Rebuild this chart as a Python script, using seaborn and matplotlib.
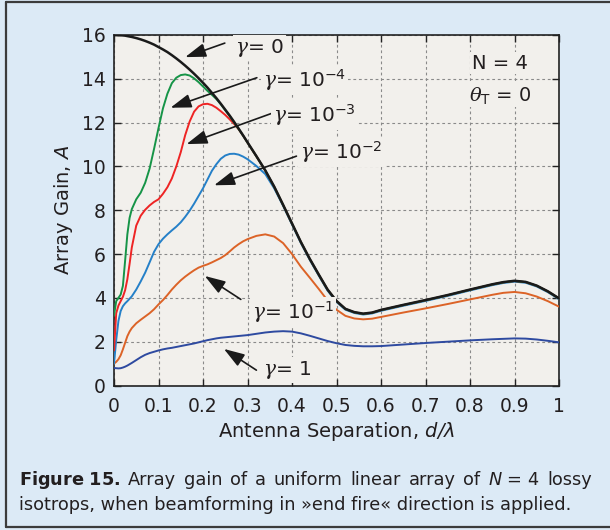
import numpy as np
import pandas as pd
import matplotlib
matplotlib.use("Agg")
import matplotlib.pyplot as plt
import seaborn as sns
from matplotlib.lines import Line2D

# ---------------- data ----------------
d_lambda = [0, 0.005, 0.01, 0.015, 0.02, 0.025, 0.03, 0.035, 0.04, 0.05,
            0.06, 0.07, 0.08, 0.09, 0.1, 0.11, 0.12, 0.13, 0.14, 0.15,
            0.16, 0.17, 0.18, 0.19, 0.2, 0.21, 0.22, 0.23, 0.24, 0.25,
            0.26, 0.27, 0.28, 0.29, 0.3, 0.32, 0.34, 0.36, 0.38, 0.4,
            0.42, 0.44, 0.46, 0.48, 0.5, 0.52, 0.54, 0.56, 0.58, 0.6,
            0.65, 0.7, 0.75, 0.8, 0.85, 0.875, 0.9, 0.925, 0.95, 0.975, 1.0]

gain_g0 = [16.0, 16.0, 15.99, 15.99, 15.98, 15.97, 15.95, 15.93, 15.91, 15.86,
           15.8, 15.73, 15.65, 15.56, 15.45, 15.34, 15.22, 15.08, 14.93, 14.77,
           14.6, 14.42, 14.23, 14.03, 13.82, 13.6, 13.36, 13.12, 12.86, 12.59,
           12.32, 12.03, 11.73, 11.42, 11.1, 10.47, 9.82, 9.08, 8.25, 7.4,
           6.55, 5.78, 5.07, 4.38, 3.86, 3.5, 3.35, 3.28, 3.33, 3.45,
           3.68, 3.9, 4.13, 4.38, 4.62, 4.72, 4.78, 4.73, 4.56, 4.3, 3.98]

gain_g1e4 = [3.2, 3.85, 4.0, 4.15, 4.55, 5.7, 6.9, 7.65, 8.05, 8.5,
             8.8, 9.25, 9.9, 10.8, 11.75, 12.65, 13.32, 13.8, 14.05, 14.17,
             14.2, 14.15, 14.02, 13.85, 13.65, 13.45, 13.27, 13.08, 12.84, 12.57,
             12.3, 12.01, 11.71, 11.41, 11.09, 10.46, 9.81, 9.07, 8.24, 7.39,
             6.54, 5.77, 5.06, 4.37, 3.85, 3.49, 3.34, 3.27, 3.32, 3.44,
             3.67, 3.89, 4.12, 4.37, 4.61, 4.71, 4.77, 4.72, 4.55, 4.29, 3.97]

gain_g1e3 = [1.6, 3.3, 3.65, 3.85, 4.05, 4.35, 4.85, 5.55, 6.3, 7.3,
             7.75, 8.02, 8.22, 8.38, 8.5, 8.75, 9.05, 9.45, 10.0, 10.65,
             11.43, 12.05, 12.5, 12.74, 12.84, 12.86, 12.8, 12.68, 12.52, 12.35,
             12.15, 11.94, 11.7, 11.41, 11.09, 10.46, 9.81, 9.07, 8.24, 7.39,
             6.54, 5.77, 5.06, 4.37, 3.85, 3.49, 3.34, 3.27, 3.32, 3.44,
             3.67, 3.89, 4.12, 4.37, 4.61, 4.71, 4.77, 4.72, 4.55, 4.29, 3.97]

gain_g1e2 = [1.0, 2.08, 2.95, 3.4, 3.62, 3.75, 3.85, 3.96, 4.07, 4.38,
             4.75, 5.15, 5.62, 6.1, 6.45, 6.7, 6.9, 7.08, 7.25, 7.45,
             7.7, 7.98, 8.3, 8.65, 9.0, 9.4, 9.8, 10.1, 10.35, 10.5,
             10.57, 10.58, 10.54, 10.45, 10.33, 10.02, 9.65, 9.0, 8.2, 7.35,
             6.5, 5.73, 5.02, 4.33, 3.81, 3.46, 3.31, 3.24, 3.29, 3.41,
             3.64, 3.86, 4.09, 4.34, 4.58, 4.68, 4.74, 4.69, 4.52, 4.26, 3.94]

gain_g1e1 = [1.0, 1.08, 1.2, 1.38, 1.65, 1.95, 2.25, 2.46, 2.62, 2.84,
             3.0, 3.15, 3.3, 3.48, 3.7, 3.9, 4.13, 4.38, 4.6, 4.8,
             4.97, 5.12, 5.26, 5.38, 5.46, 5.53, 5.62, 5.72, 5.82, 5.95,
             6.12, 6.3, 6.45, 6.58, 6.68, 6.83, 6.9, 6.8, 6.5, 6.0,
             5.42, 4.92, 4.41, 3.88, 3.46, 3.18, 3.06, 3.02, 3.05, 3.13,
             3.33, 3.52, 3.72, 3.93, 4.14, 4.23, 4.27, 4.21, 4.06, 3.85, 3.6]

gain_g1 = [0.8, 0.79, 0.78, 0.79, 0.82, 0.86, 0.91, 0.97, 1.03, 1.16,
           1.29, 1.4, 1.48, 1.54, 1.6, 1.65, 1.69, 1.72, 1.76, 1.8,
           1.84, 1.88, 1.92, 1.97, 2.02, 2.07, 2.11, 2.15, 2.18, 2.2,
           2.22, 2.24, 2.26, 2.28, 2.3, 2.36, 2.42, 2.46, 2.48, 2.46,
           2.38, 2.27, 2.15, 2.03, 1.93, 1.85, 1.81, 1.79, 1.79, 1.8,
           1.87, 1.94, 2.0, 2.06, 2.11, 2.13, 2.15, 2.14, 2.1, 2.04, 1.97]

x_ticks = [0, 0.1, 0.2, 0.3, 0.4, 0.5, 0.6, 0.7, 0.8, 0.9, 1]
x_tick_labels = ["0", "0.1", "0.2", "0.3", "0.4", "0.5", "0.6", "0.7", "0.8", "0.9", "1"]
y_ticks = [0, 2, 4, 6, 8, 10, 12, 14, 16]

# ---------------- style ----------------
sns.set_style("ticks")
plt.rcParams["font.family"] = ["DejaVu Sans"]
plt.rcParams["mathtext.fontset"] = "custom"
plt.rcParams["mathtext.rm"] = "DejaVu Sans"
plt.rcParams["mathtext.it"] = "DejaVu Serif:italic"
plt.rcParams["mathtext.sf"] = "DejaVu Sans:italic"
plt.rcParams["mathtext.bf"] = "DejaVu Sans:bold"

TXT = "#231f20"
FIG_BG = "#dceaf6"
AX_BG = "#f2f0ec"

fig = plt.figure(figsize=(6.1, 5.3), dpi=100, facecolor=FIG_BG)
ax = fig.add_axes([114 / 610, 1 - 385.5 / 530, 445 / 610, 350.5 / 530])
ax.set_facecolor(AX_BG)

df = pd.DataFrame({"d": d_lambda, "g1": gain_g1, "g1e1": gain_g1e1,
                   "g1e2": gain_g1e2, "g1e3": gain_g1e3, "g1e4": gain_g1e4,
                   "g0": gain_g0})

series = [("g1", "#2e4aa0", 1.4), ("g1e1", "#dc6327", 1.4),
          ("g1e2", "#2580c8", 1.4), ("g1e3", "#ee2424", 1.4),
          ("g1e4", "#169447", 1.4), ("g0", "#1a1a1a", 1.8)]
for col, c, lw in series:
    sns.lineplot(data=df, x="d", y=col, ax=ax, color=c, lw=lw,
                 estimator=None, sort=False, zorder=3)

ax.set_xlim(0, 1)
ax.set_ylim(0, 16)
ax.set_xticks(x_ticks)
ax.set_xticklabels(x_tick_labels)
ax.set_yticks(y_ticks)
ax.tick_params(direction="in", top=True, right=True, length=5, width=1,
               colors="#222222", labelcolor=TXT, labelsize=13.5)
ax.tick_params(axis="x", pad=8)
ax.tick_params(axis="y", pad=6)
ax.grid(True, color="#8a8a8a", linestyle=(0, (2.5, 2.5)), linewidth=0.8)
for s in ax.spines.values():
    s.set_color("#222222")
    s.set_linewidth(1.2)

ax.set_xlabel(r"Antenna Separation, $\mathsf{d/\lambda}$", fontsize=14,
              color=TXT, labelpad=3)
ax.set_ylabel(r"Array Gain, $\mathsf{A}$", fontsize=14, color=TXT, labelpad=5)

# ---------------- annotations ----------------
arrow_kw = dict(arrowstyle="-|>,head_length=0.9,head_width=0.3", color="#1a1a1a",
                lw=1.2, mutation_scale=14, shrinkA=0, shrinkB=0)
bbox_kw = dict(boxstyle="square,pad=0.1", facecolor=AX_BG, edgecolor="none")

annots = [
    (r"$\gamma$= 0", (0.160, 14.99), (0.249, 15.63), (0.272, 15.4)),
    (r"$\gamma$= 10$^{-4}$", (0.127, 12.68), (0.321, 14.05), (0.334, 13.94)),
    (r"$\gamma$= 10$^{-3}$", (0.163, 11.02), (0.354, 12.42), (0.358, 12.35)),
    (r"$\gamma$= 10$^{-2}$", (0.225, 9.14), (0.410, 10.47), (0.418, 10.66)),
    (r"$\gamma$= 10$^{-1}$", (0.204, 5.0), (0.285, 3.93), (0.310, 3.35)),
    (r"$\gamma$= 1", (0.247, 1.67), (0.320, 0.70), (0.335, 0.71)),
]
for label, tip, tail, tpos in annots:
    ax.annotate("", xy=tip, xytext=tail, arrowprops=arrow_kw, zorder=5)
    ax.text(tpos[0], tpos[1], label, fontsize=14.5, color=TXT, ha="left",
            va="center", bbox=bbox_kw, zorder=6)

ax.text(0.867, 14.72, "N = 4", fontsize=14, color=TXT, ha="center",
        va="center", bbox=bbox_kw, zorder=6)
ax.text(0.867, 13.26, r"$\theta_{\mathrm{T}}$ = 0", fontsize=14, color=TXT,
        ha="center", va="center", bbox=bbox_kw, zorder=6)

# ---------------- caption (first line justified) ----------------
cap_fs = 12.8
line1 = [r"$\mathbf{Figure\ 15.}$", "Array", "gain", "of", "a", "uniform",
         "linear", "array", "of", r"$\mathsf{N}$ = 4", "lossy"]
x_left, x_right = 19, 592
y1 = 1 - 485 / 530
renderer = fig.canvas.get_renderer()
objs = [fig.text(0, y1, w, fontsize=cap_fs, color=TXT, ha="left", va="baseline")
        for w in line1]
widths = [o.get_window_extent(renderer).width for o in objs]
gap = ((x_right - x_left) - sum(widths)) / (len(objs) - 1)
xpos = x_left
for o, w in zip(objs, widths):
    o.set_x(xpos / 610)
    xpos += w + gap

fig.text(19 / 610, 1 - 510 / 530,
         "isotrops, when beamforming in \u00bbend fire\u00ab direction is applied.",
         fontsize=cap_fs, color=TXT, ha="left", va="baseline")

frame_c = "#3c3c3c"
fx0, fx1 = 6 / 610, 1.0
fy0, fy1 = 1 - 527 / 530, 1 - 2 / 530
for xs, ys in [([fx0, fx0], [fy0, fy1]), ([fx0, fx1], [fy1, fy1]),
               ([fx0, fx1], [fy0, fy0])]:
    fig.add_artist(Line2D(xs, ys, transform=fig.transFigure, color=frame_c, lw=1.6))

fig.savefig("out.png", dpi=100, facecolor=FIG_BG)
